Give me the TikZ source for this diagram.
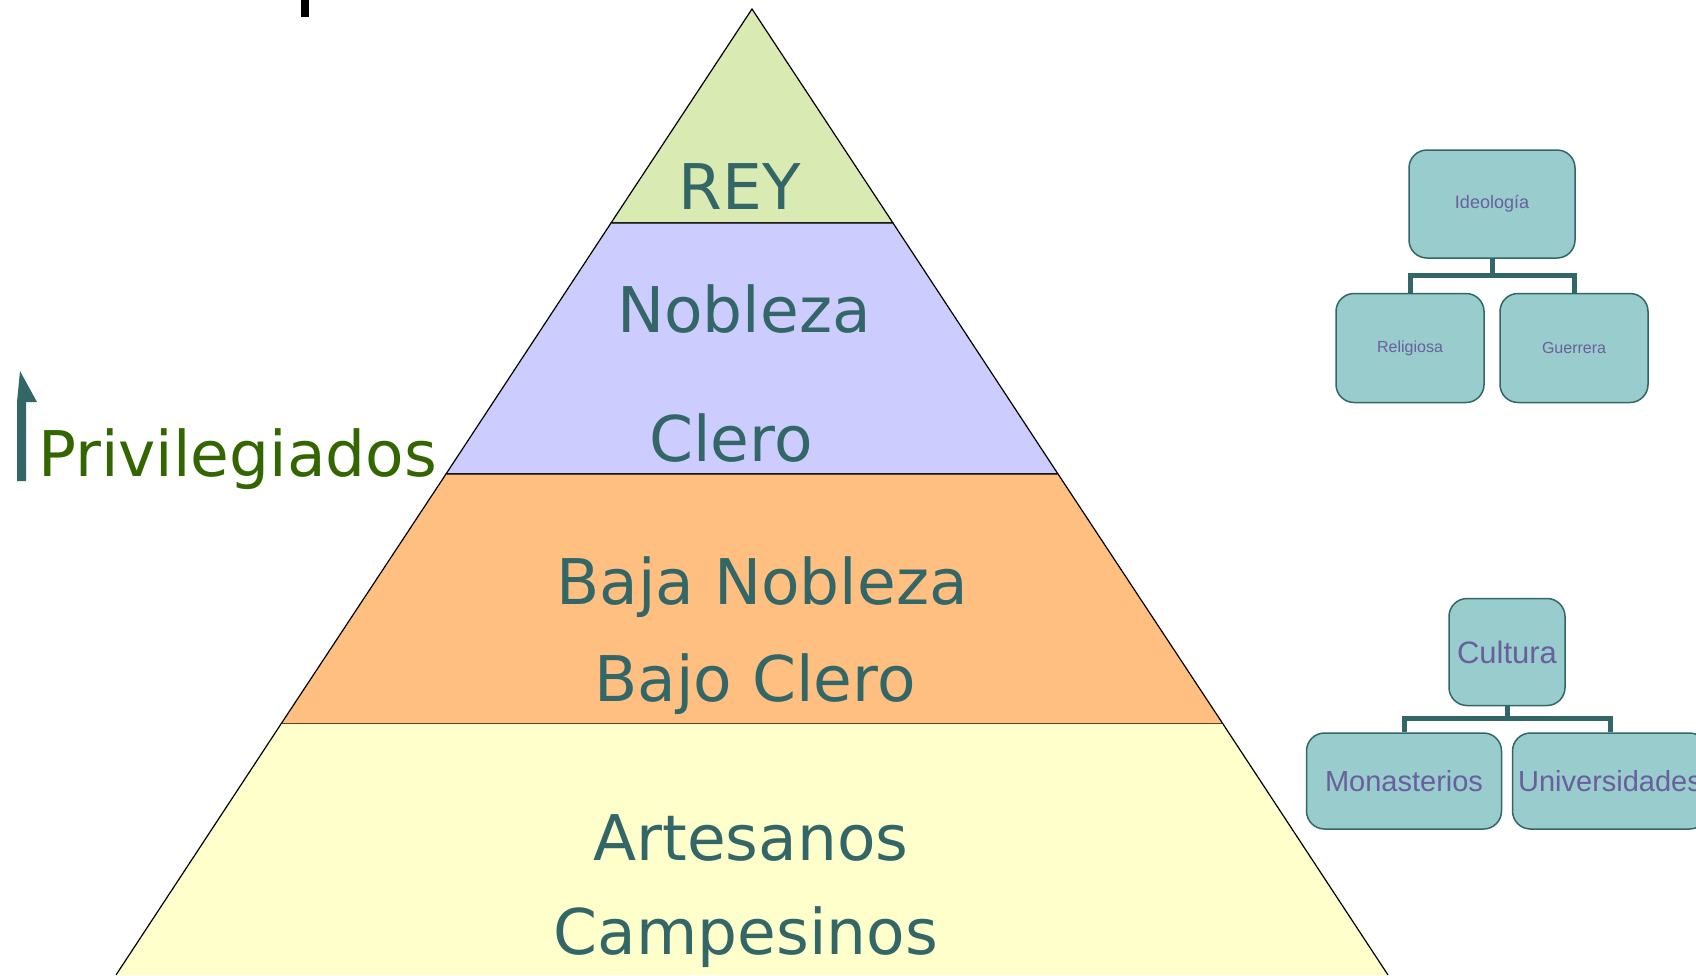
\documentclass[tikz,border=0pt]{standalone}
\usepackage{fontspec}
\setmainfont{DejaVu Sans}
\newfontfamily\boxfont{Liberation Sans}
\usepackage{tikz}
\usetikzlibrary{positioning,calc}
\definecolor{tealtxt}{HTML}{336666}
\definecolor{privgreen}{HTML}{336600}
\definecolor{reyfill}{HTML}{D9EAB3}
\definecolor{noblefill}{HTML}{CCCCFF}
\definecolor{bajafill}{HTML}{FFBF80}
\definecolor{puebfill}{HTML}{FFFFCC}
\definecolor{boxfill}{HTML}{99CCCC}
\definecolor{boxtxt}{HTML}{6A5F9E}
\tikzset{
  band/.style={draw=black, line width=1.2pt},
  layer/.style={anchor=base, text=tealtxt, inner sep=0pt, font=\fontsize{63}{70}\selectfont},
  orgbox/.style={draw=tealtxt, fill=boxfill, line width=1.5pt, rounded corners=18pt, inner sep=0pt, text=boxtxt},
  link/.style={draw=tealtxt, line width=5pt},
}

\begin{document}
\begin{tikzpicture}[x=1pt, y=-1pt]
  \useasboundingbox (0,0) rectangle (1696,975);

  % piramide
  \filldraw[band, fill=reyfill] (752,9) -- (611,223) -- (893,223) -- cycle;
  \filldraw[band, fill=noblefill] (611,223) -- (446,474) -- (1058,474) -- (893,223) -- cycle;
  \filldraw[band, fill=bajafill] (446,474) -- (281,724) -- (1223,724) -- (1058,474) -- cycle;
  \fill[puebfill] (281,724) -- (116,975) -- (1388,975) -- (1223,724) -- cycle;
  \draw[band] (281,724) -- (116,975);
  \draw[band] (1223,724) -- (1388,975);

  \node[layer] (rey) at (740,209) {REY};
  \node[layer] (nobleza) at (744,332) {Nobleza};
  \node[layer] (clero) at (731,461) {Clero};
  \node[layer] (bajanob) at (762,604) {Baja Nobleza};
  \node[layer] (bajocl) at (755,701) {Bajo Clero};
  \node[layer] (artes) at (751,860) {Artesanos};
  \node[layer] (campes) at (746,954) {Campesinos};

  % privilegiados
  \fill[tealtxt] (17,481) -- (17,402) -- (20,371) -- (37,402) -- (26,402) -- (26,481) -- cycle;
  \node[layer, anchor=base west, text=privgreen] (priv) at (38,476) {Privilegiados};
  \fill[black] (301,0) rectangle (309,17);

  % ideologia
  \node[orgbox, minimum width=166pt, minimum height=108pt, font=\boxfont\fontsize{18}{20}\selectfont] (ideo) at (1492,204) {Ideología};
  \node[orgbox, minimum width=148pt, minimum height=109pt, font=\boxfont\fontsize{16}{18}\selectfont] (relig) at (1410,348) {Religiosa};
  \node[orgbox, minimum width=148pt, minimum height=109pt, font=\boxfont\fontsize{16}{18}\selectfont] (guerr) at (1574,348) {Guerrera};
  \draw[link] (relig.north) -- ++(0,-17) -| (ideo.south);
  \draw[link] (guerr.north) -- ++(0,-17) -| (ideo.south);

  % cultura
  \node[orgbox, minimum width=116pt, minimum height=107pt, font=\boxfont\fontsize{31}{34}\selectfont] (cult) at (1507,652) {Cultura};
  \node[orgbox, minimum width=195pt, minimum height=96pt, font=\boxfont\fontsize{29}{32}\selectfont] (monas) at (1404,781) {Monasterios};
  \node[orgbox, minimum width=195pt, minimum height=96pt, font=\boxfont\fontsize{29}{32}\selectfont] (univ) at (1610,781) {Universidades};
  \draw[link] (monas.north) -- ++(0,-14) -| (cult.south);
  \draw[link] (univ.north) -- ++(0,-14) -| (cult.south);
\end{tikzpicture}
\end{document}
